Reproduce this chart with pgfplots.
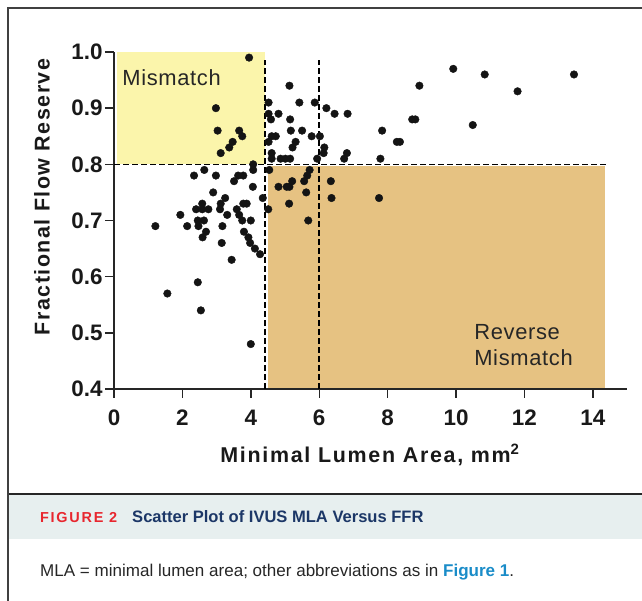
\documentclass[border=0pt]{standalone}
\usepackage{fontspec}
\setmainfont{Liberation Sans}
\usepackage{pgfplots}
\pgfplotsset{compat=1.18}
\definecolor{mmyellow}{HTML}{FBF5AB}
\definecolor{mmorange}{HTML}{E6C282}
\definecolor{band}{HTML}{E7EFEF}
\definecolor{figred}{HTML}{E8262E}
\definecolor{navy}{HTML}{1C3767}
\definecolor{linkblue}{HTML}{1A8CC8}
\pgfplotstableread{
x y
3.95 0.99
2.98 0.90
3.03 0.86
3.66 0.86
3.75 0.85
3.47 0.84
3.37 0.83
3.12 0.82
4.07 0.80
4.07 0.79
2.64 0.79
2.34 0.78
2.98 0.78
3.63 0.78
3.78 0.78
3.51 0.77
4.06 0.76
2.90 0.75
4.35 0.74
3.25 0.74
3.12 0.73
3.10 0.72
2.58 0.73
2.40 0.72
2.58 0.72
2.76 0.72
3.31 0.71
3.78 0.73
3.88 0.73
3.59 0.72
3.66 0.71
3.75 0.70
4.00 0.70
3.80 0.68
3.93 0.67
3.98 0.66
4.12 0.65
4.27 0.64
1.94 0.71
1.21 0.69
2.14 0.69
2.45 0.70
2.63 0.70
2.47 0.69
2.69 0.68
2.59 0.67
3.17 0.69
3.15 0.66
3.44 0.63
2.45 0.59
1.56 0.57
2.54 0.54
4.00 0.48
4.52 0.91
4.52 0.89
4.59 0.88
4.81 0.89
5.13 0.94
5.42 0.91
5.87 0.91
6.21 0.90
6.45 0.89
6.83 0.89
5.15 0.88
5.17 0.86
5.50 0.86
5.78 0.85
6.02 0.85
4.61 0.85
4.73 0.85
4.52 0.84
5.31 0.84
5.22 0.83
6.15 0.83
6.13 0.82
6.81 0.82
6.73 0.81
4.61 0.82
4.61 0.81
4.87 0.81
5.01 0.81
5.15 0.81
5.94 0.81
7.84 0.86
7.79 0.81
8.27 0.84
8.36 0.84
8.72 0.88
8.81 0.88
8.93 0.94
9.92 0.97
10.84 0.96
10.49 0.87
11.80 0.93
13.45 0.96
4.54 0.79
5.72 0.79
5.65 0.78
5.56 0.77
5.21 0.77
5.13 0.76
5.05 0.76
4.81 0.76
5.62 0.75
5.12 0.73
6.34 0.77
6.36 0.74
5.68 0.70
4.51 0.72
7.75 0.74
}\ffrdata
\begin{document}
\begin{tikzpicture}
\useasboundingbox (0,0) rectangle (642bp,601bp);
% caption band and frame
\fill[band] (8bp,62bp) rectangle (642bp,107bp);
\draw[line width=1.3bp, black!85] (8bp,107bp) -- (642bp,107bp);
\draw[line width=1.6bp, black!75] (8bp,-2bp) -- (8bp,593bp) -- (644bp,593bp);
\node[anchor=base west, inner sep=0pt] at (40bp,78bp)
  {{\fontsize{14.5}{16}\selectfont\bfseries\addfontfeature{LetterSpace=12}\textcolor{figred}{FIGURE 2}}\hspace{15bp}{\fontsize{16.6}{18}\selectfont\bfseries\textcolor{navy}{Scatter Plot of IVUS MLA Versus FFR}}};
\node[anchor=base west, inner sep=0pt, font=\fontsize{17.1}{19}\selectfont, text=black!85] at (40bp,25bp)
  {MLA = minimal lumen area; other abbreviations as in \textcolor{linkblue}{\bfseries Figure 1}.};
% axis labels
\node[rotate=90, inner sep=0pt, font=\fontsize{21.5}{24}\selectfont\bfseries\addfontfeature{LetterSpace=7}, text=black!90] at (42bp,404bp) {Fractional Flow Reserve};
\node[inner sep=0pt, font=\fontsize{21.5}{24}\selectfont\bfseries\addfontfeature{LetterSpace=8}, text=black!90] at (370bp,146bp) {Minimal Lumen Area, mm\textsuperscript{2}};
\begin{axis}[
  at={(114bp,212bp)}, anchor=south west,
  scale only axis, width=513bp, height=337bp,
  xmin=0, xmax=15, ymin=0.4, ymax=1.0,
  axis x line*=bottom, axis y line*=left,
  axis line style={line width=1.6bp, black!85},
  xtick={0,2,4,6,8,10,12,14},
  xticklabels={0,2,4,6,8,10,12,14},
  ytick={0.4,0.5,0.6,0.7,0.8,0.9,1.0},
  yticklabels={0.4,0.5,0.6,0.7,0.8,0.9,1.0},
  tick align=outside, major tick length=9bp,
  tick style={line width=1.4bp, black!85},
  ticklabel style={font=\fontsize{22.5}{26}\selectfont\bfseries, text=black!90},
  xticklabel style={anchor=north, text height=16.5bp, text depth=0bp, yshift=-7bp},
  yticklabel style={xshift=1bp},
  clip=false,
]
\addplot[draw=none, fill=mmyellow] coordinates {(0.08,0.8) (4.42,0.8) (4.42,1.0) (0.08,1.0)} -- cycle;
\addplot[draw=none, fill=mmorange] coordinates {(4.5,0.402) (14.35,0.402) (14.35,0.797) (4.5,0.797)} -- cycle;
\addplot[black, line width=1.5bp, dash pattern=on 6bp off 3bp] coordinates {(0,0.8) (14.45,0.8)};
\addplot[black, line width=1.5bp, dash pattern=on 6bp off 3bp] coordinates {(4.42,0.4) (4.42,0.985)};
\addplot[black, line width=1.5bp, dash pattern=on 6bp off 3bp] coordinates {(6.0,0.4) (6.0,0.985)};
\addplot[only marks, mark=*, mark size=3.8bp, mark options={fill=black!92, draw=black!92}] table[x=x, y=y] {\ffrdata};
\node[anchor=west, inner sep=0pt, font=\fontsize{22}{24}\selectfont\addfontfeature{LetterSpace=3}, text=black!85] at (axis cs:0.24,0.955) {Mismatch};
\node[anchor=west, inner sep=0pt, align=left, font=\fontsize{22}{26}\selectfont\addfontfeature{LetterSpace=3}, text=black!85] at (axis cs:10.53,0.478) {Reverse\\Mismatch};
\end{axis}
\end{tikzpicture}
\end{document}
